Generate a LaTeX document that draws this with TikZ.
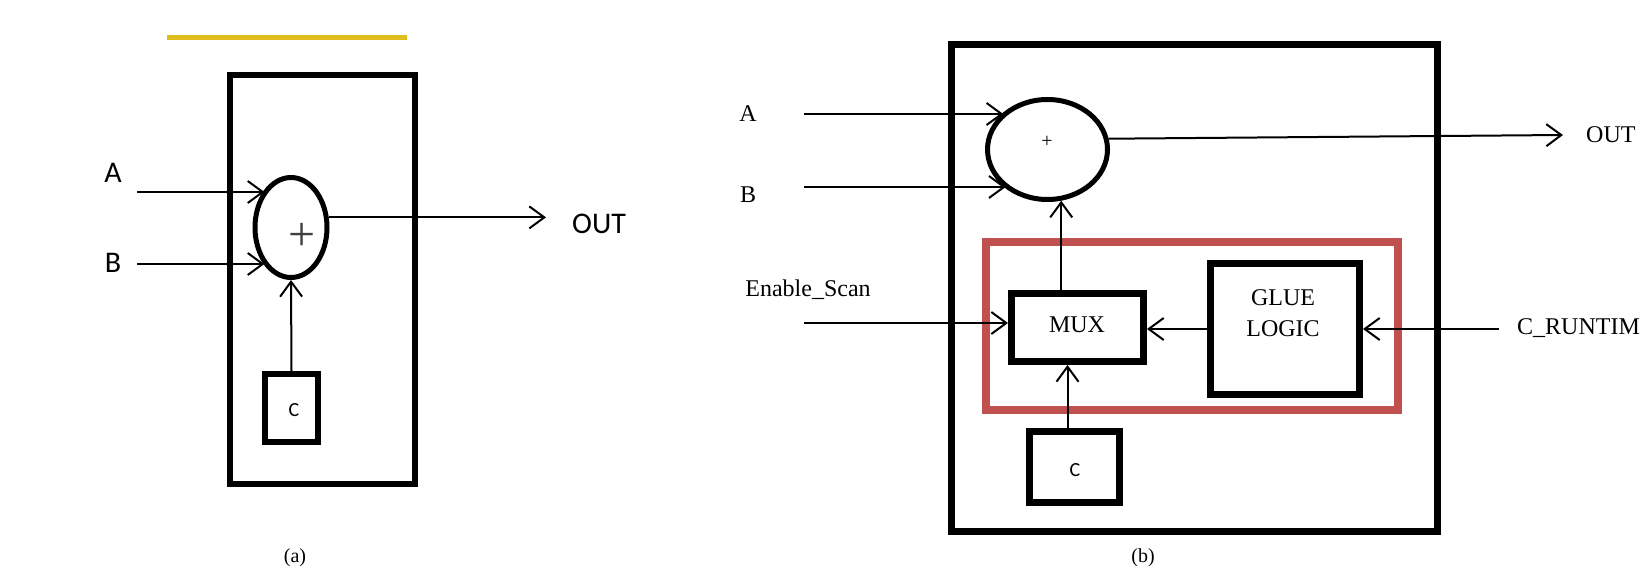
\documentclass[tikz,border=0pt]{standalone}
\usepackage{fontspec}
\setmainfont{Liberation Serif}
\newfontfamily\calib{Carlito}
\usetikzlibrary{arrows.meta,shapes.geometric}
\definecolor{goldline}{HTML}{E0BC1C}
\definecolor{redframe}{HTML}{C0504D}
\begin{document}
\begin{tikzpicture}[x=1pt,y=-1pt,
  thickbox/.style={draw=black,line width=6.5pt,minimum width=#1,inner sep=0pt},
  ovalbox/.style={draw=black,ellipse,line width=5pt,inner sep=0pt},
  arr/.style={line width=2pt,-{Straight Barb[length=15pt,width=22pt,line width=2pt]}},
  lblsans/.style={font=\calib\fontsize{30}{36}\selectfont,inner sep=0pt},
  lblserif/.style={font=\fontsize{24}{31}\selectfont,inner sep=0pt},
]
\useasboundingbox (0,0) rectangle (1641,569);
\fill[white] (0,0) rectangle (1641,569);

% ---------------- (a) ----------------
\draw[goldline,line width=5pt] (167,37.5) -- (407,37.5);
\node[thickbox=185pt,minimum height=409pt,line width=6pt] (boxL) at (322,279.5) {};
\node[ovalbox,minimum width=72pt,minimum height=100pt] (sumL) at (291,227.5) {};
\node[font=\fontsize{48}{52}\selectfont,inner sep=0pt,text=black!75] (plusL) at (302,237) {+};
\node[lblsans] (labAL) at (113,173) {A};
\node[lblsans] (labBL) at (113,263) {B};
\coordinate (inAL) at (137,192);
\coordinate (inBL) at (137,264);
\draw[arr] (inAL) -- (inAL -| sumL.125);
\draw[arr] (inBL) -- (inBL -| sumL.235);
\coordinate (outLtip) at (546,218);
\draw[arr] (sumL.15) -- (sumL.15 -| outLtip);
\node[lblsans,anchor=west] (outL) at (572,224) {OUT};
\node[thickbox=53pt,minimum height=68pt,line width=5.5pt] (cL) at (291.5,408) {};
\node[font=\calib\fontsize{20}{24}\selectfont,inner sep=0pt] (cLt) at (294,410) {C};
\draw[arr] (cL.north) -- (sumL.south);
\node[font=\fontsize{20}{24}\selectfont,inner sep=0pt] (capA) at (295,558) {(a)};

% ---------------- (b) ----------------
\node[thickbox=486pt,minimum height=486.5pt,line width=7pt] (boxR) at (1194,287.75) {};
\node[draw=redframe,line width=8pt,minimum width=411.5pt,minimum height=168pt,inner sep=0pt] (red) at (1191.75,326) {};
\node[ovalbox,minimum width=120pt,minimum height=100pt] (sumR) at (1047.5,149.5) {};
\node[font=\fontsize{20}{24}\selectfont,inner sep=0pt] (plusR) at (1047,142) {+};
\node[lblserif] (labAR) at (748,114) {A};
\node[lblserif] (labBR) at (748,195) {B};
\node[lblserif] (labEn) at (808,290) {Enable\_Scan};
\coordinate (inAR) at (804,114);
\coordinate (inBR) at (804,187);
\coordinate (inEn) at (804,323);
\draw[arr] (inAR) -- (inAR -| sumR.140);
\draw[arr] (inBR) -- (inBR -| sumR.223);
\coordinate (outRtip) at (1563,135);
\draw[arr] (sumR.10) -- (outRtip);
\node[lblserif,anchor=west] (outR) at (1586,135) {OUT};

\node[thickbox=132pt,minimum height=68pt,line width=7pt] (mux) at (1077.5,327.5) {};
\node[lblserif] (muxt) at (1077,325) {MUX};
\node[thickbox=149pt,minimum height=131pt,line width=7pt] (glue) at (1285,329) {};
\node[lblserif,align=center] (gluet) at (1283,313) {GLUE\\LOGIC};
\node[thickbox=90pt,minimum height=71pt,line width=7pt] (cR) at (1074.5,467) {};
\node[font=\calib\fontsize{20}{24}\selectfont,inner sep=0pt] (cRt) at (1075,470) {C};

\draw[arr] (inEn) -- (inEn -| mux.west);
\draw[arr] (sumR.285 |- mux.north) -- (sumR.285);
\draw[arr] ([xshift=-7pt]cR.north) -- ([xshift=-7pt]cR.north |- mux.south);
\draw[arr] (glue.west) -- (glue.west -| mux.east);
\coordinate (inCR) at (1499,329);
\draw[arr] (inCR) -- (inCR -| glue.east);
\node[lblserif,anchor=west] (labCR) at (1517,328) {C\_RUNTIM};
\node[font=\fontsize{20}{24}\selectfont,inner sep=0pt,anchor=south] (capB) at (1143,567) {(b)};
\end{tikzpicture}
\end{document}
